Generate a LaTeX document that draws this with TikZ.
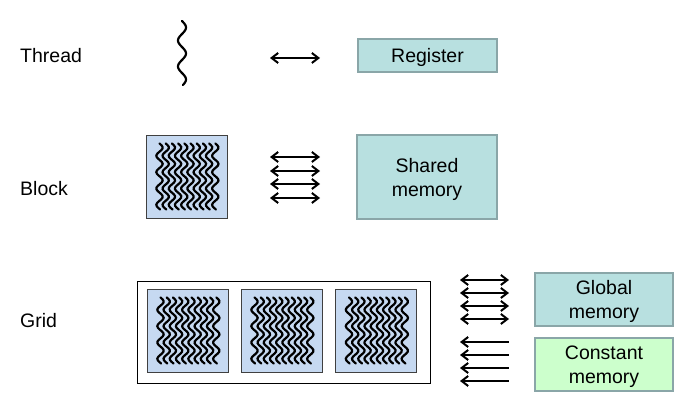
\documentclass[tikz,border=0pt]{standalone}
\usepackage{fontspec}
\setmainfont{Liberation Sans}
\usetikzlibrary{arrows.meta}
\definecolor{memteal}{RGB}{184,224,224}
\definecolor{memedge}{RGB}{138,166,168}
\definecolor{memgreen}{RGB}{204,255,204}
\definecolor{blkblue}{RGB}{198,217,241}
\definecolor{blkedge}{RGB}{64,64,64}
\tikzset{
  membox/.style={draw=memedge, line width=2pt, fill=memteal, align=center, inner sep=0pt, text depth=0pt},
  rowlabel/.style={anchor=base west, inner sep=0pt},
  blkbox/.style={draw=blkedge, line width=0.8pt, fill=blkblue, inner sep=0pt,
    minimum width=81pt, minimum height=83pt},
  wave/.style={line width=2.2pt, line cap=round},
  xfer/.style={{Straight Barb[length=6.5pt,width=10pt]}-{Straight Barb[length=6.5pt,width=10pt]}, line width=2pt},
  rdonly/.style={{Straight Barb[length=6.5pt,width=10pt]}-, line width=2pt}
}
\begin{document}
\begin{tikzpicture}[x=1pt, y=-1pt, font=\fontsize{19.5}{24}\selectfont]
\useasboundingbox (0,0) rectangle (696,411);
% --- Row labels ---
\node[rowlabel] (lthread) at (20,62.5) {Thread};
\node[rowlabel] (lblock) at (20,196) {Block};
\node[rowlabel] (lgrid) at (20,328) {Grid};
% --- Thread row ---
\draw[wave] plot[domain=21:85, samples=60] ({182+4*sin((\x-21)*13.85)},\x);
\coordinate (tl) at (270,58);
\coordinate (tr) at (320,58);
\draw[xfer] (tl) -- (tr);
\node[membox, minimum width=139pt, minimum height=33pt] (reg) at (427.5,55.5) {Register};
% --- Block row ---
\node[blkbox] (blk) at (186.5,176.5) {};
\begin{scope}[shift={(blk.center)}]
  \foreach \k in {0,...,9}
    \draw[wave] plot[domain=-33:33, samples=40] ({-27+6.2*\k+3.2*sin((\x+33)*22)},\x);
\end{scope}
\foreach \y [count=\i] in {157,171,184,198} {
  \coordinate (bl\i) at (270,\y);
  \coordinate (br\i) at (320,\y);
  \draw[xfer] (bl\i) -- (br\i);
}
\node[membox, minimum width=140pt, minimum height=84pt] (shm) at (427,177) {Shared\\memory};
% --- Grid row ---
\node[draw, line width=0.8pt, minimum width=293pt, minimum height=102pt, inner sep=0pt] (grid) at (283.5,332) {};
\foreach \cx [count=\j] in {187.5,281.5,376} {
  \node[blkbox] (g\j) at (\cx,330.5) {};
  \begin{scope}[shift={(g\j.center)}]
    \foreach \k in {0,...,9}
      \draw[wave] plot[domain=-33:33, samples=40] ({-27+6.2*\k+3.2*sin((\x+33)*22)},\x);
  \end{scope}
}
\foreach \y [count=\i] in {280,293,306,319} {
  \coordinate (gl\i) at (460,\y);
  \coordinate (gr\i) at (509,\y);
  \draw[xfer] (gl\i) -- (gr\i);
}
\foreach \y [count=\i] in {342,355,368,381} {
  \coordinate (cl\i) at (460,\y);
  \coordinate (cr\i) at (509,\y);
  \draw[rdonly] (cl\i) -- (cr\i);
}
\node[membox, minimum width=138pt, minimum height=53pt] (glob) at (604,299.5) {Global\\memory};
\node[membox, fill=memgreen, minimum width=138pt, minimum height=53pt] (cmem) at (604,364.5) {Constant\\memory};
\end{tikzpicture}
\end{document}
